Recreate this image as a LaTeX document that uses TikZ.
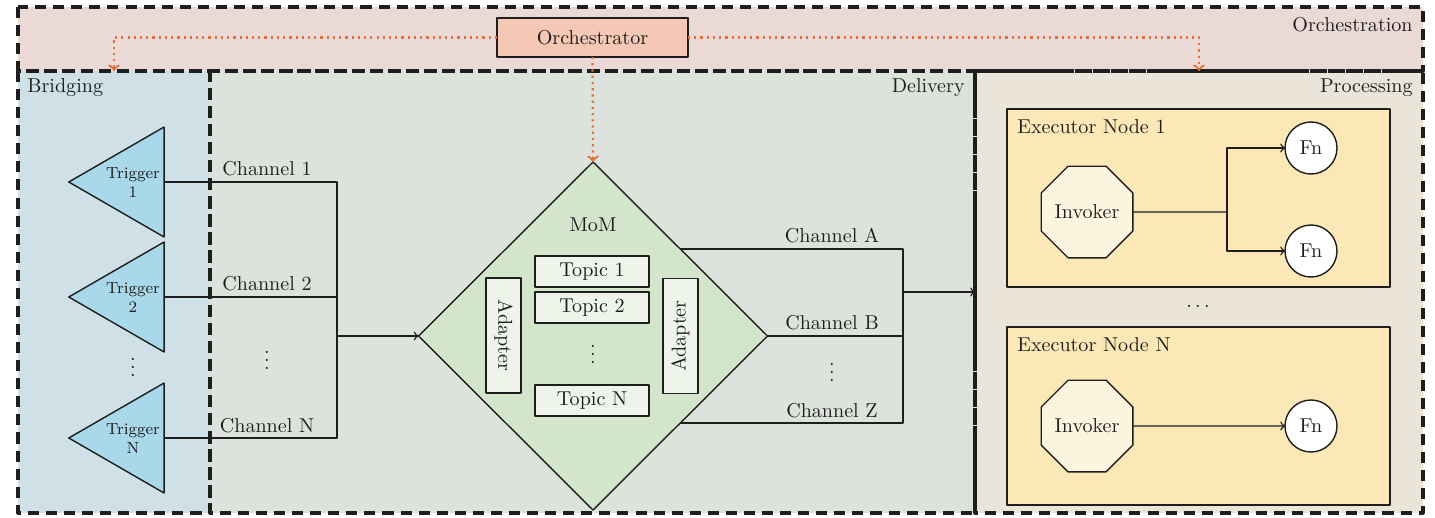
\documentclass[tikz,border=0pt]{standalone}
\usetikzlibrary{shapes.geometric,calc}

\definecolor{inkc}{HTML}{1E1E1E}
\definecolor{orchbg}{HTML}{EAD9D5}
\definecolor{bridgebg}{HTML}{CFE0E7}
\definecolor{delivbg}{HTML}{DDE3DC}
\definecolor{procbg}{HTML}{EBE4D8}
\definecolor{orcfill}{HTML}{F5C8B6}
\definecolor{trigfill}{HTML}{A9D8EA}
\definecolor{momfill}{HTML}{D3E6CB}
\definecolor{topicfill}{HTML}{EEF4EA}
\definecolor{execfill}{HTML}{FCE8B7}
\definecolor{invfill}{HTML}{FDF4DF}
\definecolor{ctrlc}{HTML}{E0703C}

% one drawing unit = one pixel of the layout grid
\newcommand\pxu{0.0175cm}
% three stacked dots without the extra space above them
\newcommand\vdotsx{\vbox{\baselineskip4pt\lineskiplimit0pt\hbox{.}\hbox{.}\hbox{.}}}

\begin{document}
\begin{tikzpicture}[x=0.0175cm,y=-0.0175cm,line join=round,
  every node/.style={text=inkc},
  area/.style={inner sep=0pt,outer sep=0pt},
  areaborder/.style={draw=inkc,line width=1.6pt,dash pattern=on 5.5pt off 3.5pt},
  wire/.style={draw=inkc,line width=0.7pt},
  ctrl/.style={draw=ctrlc,line width=1.1pt,dotted,->},
  boxed/.style={draw=inkc,line width=0.7pt,inner sep=0pt,outer sep=0pt},
  trig/.style={boxed,fill=trigfill,regular polygon,regular polygon sides=3,
    shape border rotate=90,minimum size=127*\pxu},
  triglab/.style={font=\footnotesize,align=center,inner sep=0pt},
  dotsv/.style={inner sep=0pt},
  topic/.style={boxed,fill=topicfill,minimum width=114*\pxu,minimum height=31*\pxu},
  adapter/.style={boxed,fill=topicfill,minimum width=115*\pxu,minimum height=35*\pxu},
  execbox/.style={boxed,fill=execfill,minimum width=383*\pxu,minimum height=178*\pxu},
  invoker/.style={boxed,fill=invfill,regular polygon,regular polygon sides=8,minimum size=97*\pxu},
  fn/.style={boxed,fill=white,circle,minimum size=52*\pxu},
  chlabel/.style={anchor=base},
  arealabel/.style={inner sep=0pt}
]
\useasboundingbox (0,0) rectangle (1435,517);

% ---- the four areas ----
\node[area,fill=orchbg,minimum width=1405*\pxu,minimum height=64*\pxu] (orch) at (720.5,39) {};
\node[area,fill=bridgebg,minimum width=192*\pxu,minimum height=442*\pxu] (bridge) at (114,292) {};
\node[area,fill=delivbg,minimum width=765*\pxu,minimum height=442*\pxu] (deliv) at (592.5,292) {};
\node[area,fill=procbg,minimum width=448*\pxu,minimum height=442*\pxu] (proc) at (1199,292) {};
\foreach \a in {orch,bridge,deliv,proc}
  \draw[areaborder] (\a.north west) rectangle (\a.south east);

\node[arealabel,anchor=east] (orchlab) at (1413,25) {Orchestration};
\node[arealabel,anchor=west] (bridgelab) at (27,88) {Bridging};
\node[arealabel,anchor=east] (delivlab) at (965,88) {Delivery};
\node[arealabel,anchor=east] (proclab) at (1413,88) {Processing};

% ---- orchestrator ----
\node[boxed,fill=orcfill,minimum width=191*\pxu,minimum height=39*\pxu] (orc) at (592.5,37.5) {Orchestrator};

% ---- triggers ----
\node[trig] (t1) at (132.3,182) {};
\node[trig] (t2) at (132.3,297) {};
\node[trig] (tN) at (132.3,438) {};
\node[triglab] (t1lab) at (133,183) {Trigger\\1};
\node[triglab] (t2lab) at (133,298) {Trigger\\2};
\node[triglab] (tNlab) at (133,439) {Trigger\\N};
\node[dotsv] (tdots) at (133,367) {\vdotsx};

% ---- message-oriented middleware ----
\node[boxed,fill=momfill,diamond,minimum width=349*\pxu,minimum height=348*\pxu] (mom) at (593,336) {};
\node (momlab) at (593,225) {MoM};
\node[topic] (tp1) at (592,271.5) {Topic 1};
\node[topic] (tp2) at (592,307.5) {Topic 2};
\node[topic] (tpN) at (592,400.5) {Topic N};
\node[dotsv] (tpdots) at (593,354) {\vdotsx};
\node[adapter,rotate=-90] (adl) at (503.5,335.5) {Adapter};
\node[adapter,rotate=90] (adr) at (680.5,336) {Adapter};

% ---- incoming channels ----
\coordinate (jl) at (337,336);
\draw[wire] (t1.0) -| (jl);
\draw[wire] (t2.0) -| (jl);
\draw[wire] (tN.0) -| (jl);
\draw[wire,->] (jl) -- (mom.west);
\node[chlabel] (c1) at (267,175) {Channel 1};
\node[chlabel] (c2) at (267,290) {Channel 2};
\node[chlabel] (cN) at (267,432) {Channel N};
\node[dotsv] (cdots) at (267,360) {\vdotsx};

% ---- outgoing channels ----
\coordinate (jr) at (903,292);
\draw[wire] (mom.north east) -| (jr);
\draw[wire] (mom.east) -| (jr);
\draw[wire] (mom.south east) -| (jr);
\draw[wire,->] (jr) -- (proc.west);
\node[chlabel] (cA) at (832,242) {Channel A};
\node[chlabel] (cB) at (832,329) {Channel B};
\node[chlabel] (cZ) at (832,417) {Channel Z};
\node[dotsv] (codots) at (832,372) {\vdotsx};

% ---- executor nodes ----
\node[execbox] (ex1) at (1198.5,198) {};
\node[execbox] (ex2) at (1198.5,416) {};
\node[anchor=base west,inner sep=0pt] (ex1lab) at ($(ex1.north west)+(10,24)$) {Executor Node 1};
\node[anchor=base west,inner sep=0pt] (ex2lab) at ($(ex2.north west)+(10,24)$) {Executor Node N};
\node (exdots) at (1198,306) {$\dots$};

\node[invoker] (inv1) at (1087,212) {Invoker};
\node[fn] (fn1a) at (1311,148) {Fn};
\node[fn] (fn1b) at (1311,251) {Fn};
\coordinate (br1) at (1227,212);
\draw[wire] (inv1) -- (br1);
\draw[wire,->] (br1) |- (fn1a);
\draw[wire,->] (br1) |- (fn1b);

\node[invoker] (inv2) at (1087,426) {Invoker};
\node[fn] (fn2) at (1311,426) {Fn};
\draw[wire,->] (inv2) -- (fn2);

% ---- control flow from the orchestrator ----
\draw[ctrl] (orc.west) -| (bridge.north);
\draw[ctrl] (orc.east) -| (proc.north);
\draw[ctrl] (orc.south) -- (mom.north);
\end{tikzpicture}
\end{document}
